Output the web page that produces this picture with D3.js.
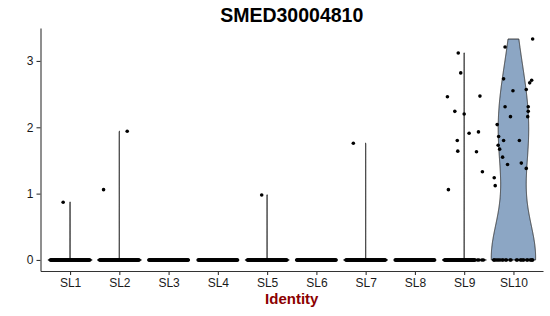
<!DOCTYPE html>
<html>
<head>
<meta charset="utf-8">
<script src="https://cdn.jsdelivr.net/npm/d3@7"></script>
<style>
  body { margin: 0; background: #fff; }
  text { font-family: "Liberation Sans", Arial, Helvetica, sans-serif; }
</style>
</head>
<body>
<svg></svg>
<script>
var idents = ["SL1", "SL2", "SL3", "SL4", "SL5", "SL6", "SL7", "SL8", "SL9", "SL10"];
var yTicks = [0, 1, 2, 3];

// expressing cells: [ident, expression, jitter (fraction of a category step)]
var expressing = [
  ["SL1", 0.87, -0.14],
  ["SL2", 1.06, -0.32], ["SL2", 1.94, 0.16],
  ["SL5", 0.98, -0.11],
  ["SL7", 1.76, -0.25],
  ["SL9", 3.12, -0.12], ["SL9", 2.82, -0.07], ["SL9", 2.46, -0.34], ["SL9", 2.47, 0.32],
  ["SL9", 2.24, -0.19], ["SL9", 2.20, 0.00], ["SL9", 1.91, 0.10], ["SL9", 1.93, 0.29],
  ["SL9", 1.80, -0.14], ["SL9", 1.64, -0.13], ["SL9", 1.63, 0.25], ["SL9", 1.33, 0.37],
  ["SL9", 1.06, -0.32],
  ["SL10", 3.33, 0.39], ["SL10", 3.21, -0.17], ["SL10", 2.73, -0.20], ["SL10", 2.71, 0.37],
  ["SL10", 2.67, 0.33], ["SL10", 2.57, 0.26], ["SL10", 2.55, -0.01], ["SL10", 2.31, -0.17],
  ["SL10", 2.31, 0.30], ["SL10", 2.24, 0.30], ["SL10", 2.16, -0.06], ["SL10", 2.16, 0.29],
  ["SL10", 2.04, -0.33], ["SL10", 1.86, -0.30], ["SL10", 1.80, -0.20], ["SL10", 1.80, 0.12],
  ["SL10", 1.73, -0.31], ["SL10", 1.67, -0.28], ["SL10", 1.55, -0.22], ["SL10", 1.46, 0.16],
  ["SL10", 1.44, -0.12], ["SL10", 1.38, 0.26], ["SL10", 1.24, -0.39], ["SL10", 1.12, -0.37]
];

// cells at zero, as jitter offsets
var denseZeroJitter = d3.range(-0.4, 0.4001, 0.01);
var sl9ZeroJitter = d3.range(-0.4, 0.2201, 0.01).concat([0.27, 0.30, 0.36, 0.39]);
var sl10ZeroJitter = [-0.40, -0.39, -0.36, -0.33, -0.30, -0.27, -0.23, -0.21, -0.16, -0.14, -0.07, -0.05,
                      0.06, 0.08, 0.14, 0.16, 0.19, 0.21, 0.27, 0.29, 0.34, 0.36, 0.38, 0.39];

var drawGraph = function() {
  var screen = { width: 550, height: 316 };
  var panel = { left: 40.5, right: 543, top: 28, bottom: 271 };
  var adjust = 1.3;

  var svg = d3.select("svg")
              .attr("width", screen.width)
              .attr("height", screen.height);

  var cells = [];
  idents.forEach(function(id) {
    var zeros = id == "SL9" ? sl9ZeroJitter : id == "SL10" ? sl10ZeroJitter : denseZeroJitter;
    zeros.forEach(function(j) { cells.push({ident: id, value: 0, jitter: j}); });
  });
  expressing.forEach(function(r) {
    cells.push({ident: r[0], value: r[1], jitter: r[2]});
  });

  var ymax = d3.max(cells, function(d) { return d.value; });
  var yScale = d3.scaleLinear()
                 .domain([-0.05 * ymax, ymax * 1.05])
                 .range([panel.bottom, panel.top]);

  var xScale = d3.scalePoint()
                 .domain(idents)
                 .range([panel.left, panel.right])
                 .padding(0.6);
  var step = xScale.step();

  // bw.nrd0; Seurat jitters zeros by ~1e-5 so zero-heavy idents get a tiny bandwidth
  var bwNrd0 = function(v) {
    var s = v.slice().sort(d3.ascending);
    var sd = d3.deviation(s) || 0;
    var iqr = d3.quantileSorted(s, 0.75) - d3.quantileSorted(s, 0.25);
    var lo = Math.min(sd, iqr / 1.34);
    if (!lo) lo = 1e-5;
    return 0.9 * lo * Math.pow(s.length, -0.2);
  };

  var violins = idents.map(function(id) {
    var v = cells.filter(function(d) { return d.ident == id; })
                 .map(function(d) { return d.value; });
    var lo = d3.min(v), hi = d3.max(v);
    if (hi == lo) return null;
    var h = bwNrd0(v) * adjust;
    var grid = d3.range(512).map(function(i) { return lo + i * (hi - lo) / 511; });
    var dens = grid.map(function(y) {
      return d3.sum(v, function(x) { var z = (y - x) / h; return Math.exp(-0.5 * z * z); });
    });
    var dmax = d3.max(dens);
    return {
      ident: id,
      points: grid.map(function(y, i) { return {y: y, w: dens[i] / dmax}; })
    };
  }).filter(function(d) { return d; });

  var area = function(id) {
    var cx = xScale(id);
    return d3.area()
             .x0(function(d) { return cx - d.w * 0.45 * step; })
             .x1(function(d) { return cx + d.w * 0.45 * step; })
             .y(function(d) { return yScale(d.y); });
  };

  var plotLand = svg.append("g").classed("plot", true);

  plotLand.selectAll(".violin")
          .data(violins)
          .enter()
          .append("path")
          .classed("violin", true)
          .attr("d", function(d) { return area(d.ident)(d.points) + "Z"; })
          .attr("fill", "#8CA6C4")
          .attr("stroke", "#2b2b2b")
          .attr("stroke-width", 0.9);

  plotLand.selectAll("circle")
          .data(cells)
          .enter()
          .append("circle")
          .attr("cx", function(d) { return xScale(d.ident) + d.jitter * step; })
          .attr("cy", function(d) { return yScale(d.value); })
          .attr("r", 1.8)
          .attr("fill", "#000");

  var yAxis = svg.append("g")
                 .attr("transform", "translate(" + panel.left + ",0)")
                 .call(d3.axisLeft(yScale).tickValues(yTicks).tickFormat(d3.format("d"))
                         .tickSize(4).tickSizeOuter(0).tickPadding(3));

  var xAxis = svg.append("g")
                 .attr("transform", "translate(0," + panel.bottom + ")")
                 .call(d3.axisBottom(xScale).tickSize(4).tickSizeOuter(0).tickPadding(3));

  [yAxis, xAxis].forEach(function(ax) {
    ax.select(".domain").attr("stroke", "#333").attr("stroke-width", 1.1);
    ax.selectAll(".tick line").attr("stroke", "#333").attr("stroke-width", 1.1);
    ax.selectAll(".tick text")
      .attr("font-size", 12)
      .attr("font-family", "Liberation Sans, Arial, sans-serif")
      .attr("fill", "#1a1a1a");
  });

  var cx = (panel.left + panel.right) / 2;
  svg.append("text")
     .attr("x", cx)
     .attr("y", 22)
     .attr("text-anchor", "middle")
     .attr("font-size", 19.5)
     .attr("font-weight", "bold")
     .attr("fill", "#000")
     .text("SMED30004810");

  svg.append("text")
     .attr("x", cx)
     .attr("y", 303.5)
     .attr("text-anchor", "middle")
     .attr("font-size", 15)
     .attr("font-weight", "bold")
     .attr("fill", "#8B0000")
     .text("Identity");
};

drawGraph();
</script>
</body>
</html>
